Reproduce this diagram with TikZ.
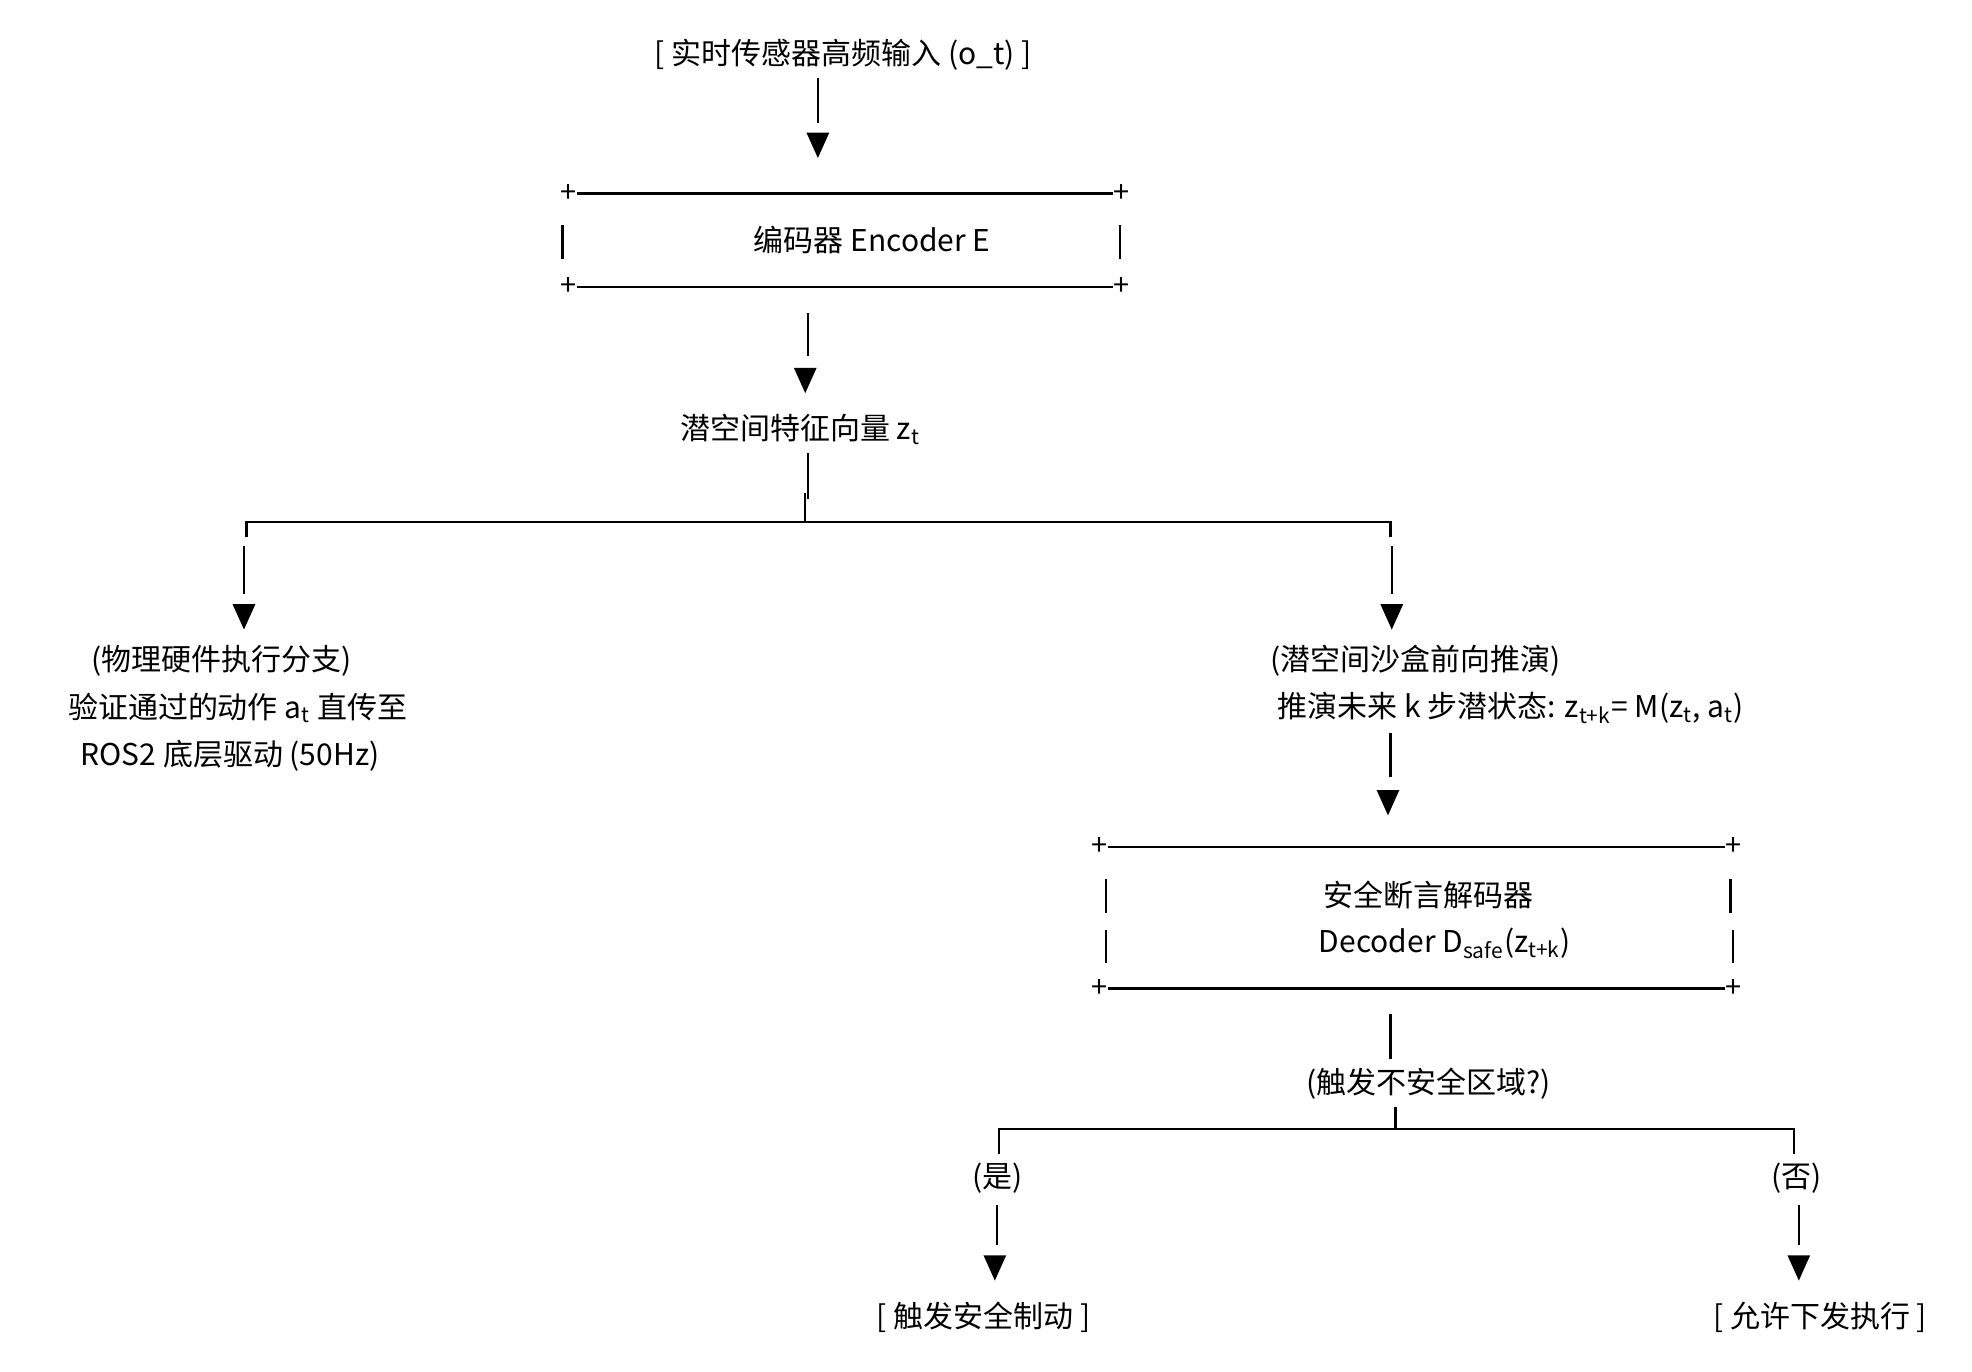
\documentclass[tikz,border=0pt]{standalone}
\usepackage{fontspec}
\setmainfont{Noto Sans CJK SC}
\begin{document}
\begin{tikzpicture}[x=0.02cm,y=-0.02cm,
  txt/.style={inner sep=0pt,font=\fontsize{13.5}{16}\selectfont,align=center},
  ln/.style={line width=1pt},
  pl/.style={inner sep=0pt,font=\fontsize{13}{13}\selectfont}]
\useasboundingbox (0,0) rectangle (1560,1085);
\newcommand\tri[1]{\fill (#1) ++(-9,-20) -- ++(18,0) -- ++(-9,20) -- cycle;}
% top
\node[txt] (in) at (667,43) {[ 实时传感器高频输入 (o\_t) ]};
\coordinate (a1) at (647,62); \coordinate (a1e) at (647,97); \coordinate (t1) at (647,125);
\draw[ln] (a1) -- (a1e); \tri{t1}
% encoder box
\node[pl] (e1) at (450,153) {+}; \node[pl] (e2) at (887,153) {+};
\node[pl] (e3) at (450,227) {+}; \node[pl] (e4) at (887,227) {+};
\draw[ln] (e1) -- (e2); \draw[ln] (e3) -- (e4);
\coordinate (eb1) at (445,178); \coordinate (eb2) at (445,205);
\coordinate (eb3) at (886,178); \coordinate (eb4) at (886,205);
\draw[ln] (eb1) -- (eb2); \draw[ln] (eb3) -- (eb4);
\node[txt] (enc) at (690,190) {编码器 Encoder E};
\coordinate (a2) at (639,248); \coordinate (a2e) at (639,282); \coordinate (t2) at (637,311);
\draw[ln] (a2) -- (a2e); \tri{t2}
\node[txt] (z) at (633,340) {潜空间特征向量 \textit{z}\textsubscript{\textit{t}}};
% split
\coordinate (s0) at (639,358); \coordinate (s1) at (639,395);
\draw[ln] (s0) -- (s1);
\coordinate (sm) at (637,390); \coordinate (sm2) at (637,413);
\coordinate (sl) at (195,413); \coordinate (sr) at (1100,413);
\draw[ln] (sm) -- (sm2);
\draw[ln] (sl) ++(0,12) -- (sl) -- (sr) -- ++(0,12);
\coordinate (l1) at (193,432); \coordinate (l1e) at (193,470); \coordinate (tl) at (193,498);
\coordinate (r1) at (1101,432); \coordinate (r1e) at (1101,470); \coordinate (tr) at (1101,498);
\draw[ln] (l1) -- (l1e); \tri{tl}
\draw[ln] (r1) -- (r1e); \tri{tr}
% left branch
\node[txt] (lt1) at (175,523) {(物理硬件执行分支)};
\node[txt] (lt2) at (188,560) {验证通过的动作 a\textsubscript{t} 直传至};
\node[txt] (lt3) at (182,598) {ROS2 底层驱动 (50Hz)};
% right branch
\node[txt] (rt1) at (1120,523) {(潜空间沙盒前向推演)};
\node[txt] (rt2) at (1195,560) {推演未来 k 步潜状态: z\textsubscript{t+k}= M(z\textsubscript{t}, a\textsubscript{t})};
\coordinate (a3) at (1100,580); \coordinate (a3e) at (1100,615); \coordinate (t3) at (1098,645);
\draw[ln] (a3) -- (a3e); \tri{t3}
% decoder box
\node[pl] (d1) at (870,670) {+}; \node[pl] (d2) at (1371,670) {+};
\node[pl] (d3) at (870,782) {+}; \node[pl] (d4) at (1371,782) {+};
\draw[ln] (d1) -- (d2); \draw[ln] (d3) -- (d4);
\coordinate (db1) at (875,695); \coordinate (db2) at (875,722);
\coordinate (db3) at (875,736); \coordinate (db4) at (875,762);
\coordinate (db5) at (1369,695); \coordinate (db6) at (1369,722);
\coordinate (db7) at (1371,736); \coordinate (db8) at (1371,762);
\draw[ln] (db1) -- (db2); \draw[ln] (db3) -- (db4);
\draw[ln] (db5) -- (db6); \draw[ln] (db7) -- (db8);
\node[txt] (dt1) at (1130,708) {安全断言解码器};
\node[txt] (dt2) at (1143,746) {Decoder D\textsubscript{safe}(z\textsubscript{t+k})};
\coordinate (a4) at (1100,802); \coordinate (a4e) at (1100,838);
\draw[ln] (a4) -- (a4e);
\node[txt] (q) at (1130,857) {(触发不安全区域?)};
\coordinate (qm) at (1104,876); \coordinate (qm2) at (1104,893);
\coordinate (ql) at (790,893); \coordinate (qr) at (1419,893);
\draw[ln] (qm) -- (qm2);
\draw[ln] (ql) ++(0,20) -- (ql) -- (qr) -- ++(0,20);
\node[txt] (yes) at (789,932) {(是)};
\node[txt] (no) at (1421,932) {(否)};
\coordinate (y1) at (789,953); \coordinate (y1e) at (789,985); \coordinate (ty) at (787,1013);
\coordinate (n1) at (1423,953); \coordinate (n1e) at (1423,985); \coordinate (tn) at (1423,1013);
\draw[ln] (y1) -- (y1e); \tri{ty}
\draw[ln] (n1) -- (n1e); \tri{tn}
\node[txt] (brake) at (778,1042) {[ 触发安全制动 ]};
\node[txt] (allow) at (1440,1042) {[ 允许下发执行 ]};
\end{tikzpicture}
\end{document}
